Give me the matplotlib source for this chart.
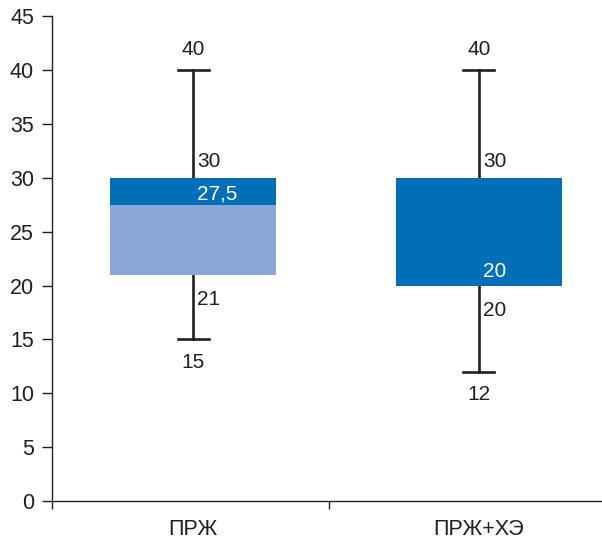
import numpy as np
import matplotlib.pyplot as plt

plt.rcParams['font.family'] = ['Liberation Sans', 'DejaVu Sans']

categories = ['ПРЖ', 'ПРЖ+ХЭ']
whisker_low = [15, 12]
box_low = [21, 20]
median = [27.5, 20]
box_high = [30, 30]
whisker_high = [40, 40]

positions = [0.51, 1.54]
dark = '#006fb7'
light = '#8aa8d7'
ink = '#231f20'

fig = plt.figure(figsize=(6.02, 5.41), dpi=100)
ax = fig.add_axes([0.0864, 0.074, 0.9136, 0.896])

w = 0.6
fs = 15
tfs = 15.5
for i, x in enumerate(positions):
    # whisker
    ax.plot([x, x], [whisker_low[i], whisker_high[i]], color=ink, lw=1.9, zorder=1)
    for yv in (whisker_low[i], whisker_high[i]):
        ax.plot([x - 0.055, x + 0.055], [yv, yv], color=ink, lw=1.9, zorder=1)
    # box: lower part light, upper part dark (second group all dark)
    if median[i] > box_low[i]:
        ax.bar(x, median[i] - box_low[i], w, bottom=box_low[i], color=light, zorder=2)
    ax.bar(x, box_high[i] - median[i], w, bottom=median[i], color=dark, zorder=2)

    # value labels
    ax.annotate(str(whisker_high[i]), (x, whisker_high[i]), xytext=(0, 11), textcoords='offset points',
                ha='center', va='baseline', fontsize=fs, color=ink)
    ax.annotate(str(box_high[i]), (x, box_high[i]), xytext=(3, 8), textcoords='offset points',
                ha='left', va='baseline', fontsize=fs, color=ink)
    ax.annotate(str(box_low[i]), (x, box_low[i]), xytext=(3, -22), textcoords='offset points',
                ha='left', va='baseline', fontsize=fs, color=ink)
    ax.annotate(str(whisker_low[i]), (x, whisker_low[i]), xytext=(0, -20.3), textcoords='offset points',
                ha='center', va='baseline', fontsize=fs, color=ink)
    med_txt = str(median[i]).replace('.', ',')
    ax.annotate(med_txt, (x, median[i]), xytext=(3, 5.8 if i == 1 else 4), textcoords='offset points',
                ha='left', va='baseline', fontsize=fs, color='white', zorder=3)

ax.set_ylim(0, 45)
ax.set_xlim(0, 1.985)
ax.set_yticks(np.arange(0, 46, 5))
ax.set_xticks(positions)
ax.set_xticklabels(categories, fontsize=tfs, color=ink)
ax.set_xticks([0, 1], minor=True)
ax.tick_params(axis='x', which='major', length=0, pad=13)
ax.tick_params(axis='x', which='minor', length=6, direction='out', color=ink, width=1)
ax.tick_params(axis='y', labelsize=tfs, labelcolor=ink, length=7, pad=6, color=ink, width=1)
for s in ['top', 'right']:
    ax.spines[s].set_visible(False)
for s in ['left', 'bottom']:
    ax.spines[s].set_color(ink)
    ax.spines[s].set_linewidth(1)

fig.savefig('out.png', dpi=100)
